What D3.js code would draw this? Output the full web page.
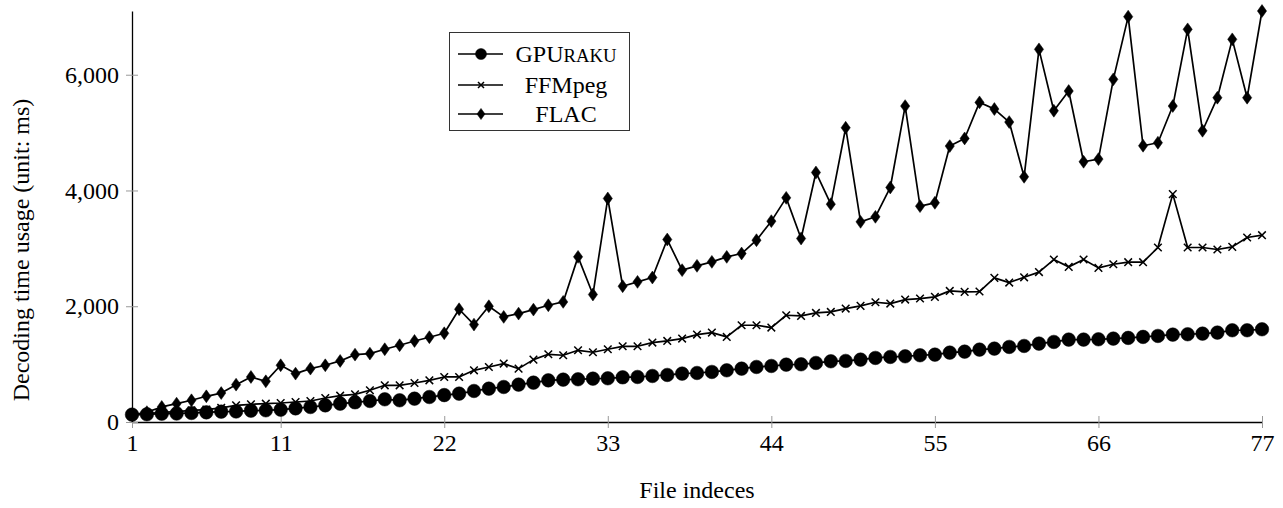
<!DOCTYPE html>
<html>
<head>
<meta charset="utf-8">
<script src="https://cdn.jsdelivr.net/npm/d3@7"></script>
<style>
  body { margin: 0; background: #fff; }
  svg text { font-family: "Liberation Serif", "DejaVu Serif", serif; fill: #000; }
</style>
</head>
<body>
<div id="chart"></div>
<script>
// file indices 1..77
var files = d3.range(1, 78);

var gpuraku = [127, 133, 144, 146, 156, 167, 179, 182, 196, 202,
    213, 236, 259, 288, 317, 340, 363, 392, 375, 403,
    432, 465, 490, 536, 576, 605, 646, 680, 720, 732,
    738, 749, 755, 772, 778, 795, 813, 836, 847, 865,
    893, 922, 951, 968, 991, 997, 1020, 1049, 1055, 1078,
    1107, 1124, 1135, 1153, 1164, 1199, 1216, 1251, 1268, 1297,
    1314, 1355, 1383, 1424, 1424, 1429, 1441, 1453, 1470, 1487,
    1510, 1516, 1527, 1545, 1585, 1585, 1602];

var ffmpeg = [120, 145, 165, 180, 200, 215, 245, 288, 305, 317,
    328, 346, 363, 415, 455, 478, 548, 634, 634, 674,
    720, 778, 778, 893, 951, 1009, 922, 1078, 1170, 1153,
    1239, 1205, 1257, 1308, 1308, 1372, 1401, 1441, 1510, 1545,
    1470, 1672, 1672, 1631, 1844, 1833, 1885, 1902, 1960, 2006,
    2069, 2046, 2115, 2133, 2162, 2265, 2248, 2254, 2490, 2409,
    2500, 2590, 2807, 2680, 2807, 2663, 2726, 2761, 2761, 3015,
    3937, 3015, 3015, 2980, 3026, 3188, 3228];

var flac = [120, 170, 260, 317, 375, 444, 500, 645, 778, 703,
    980, 836, 922, 980, 1055, 1164, 1182, 1257, 1326, 1400,
    1465, 1533, 1948, 1683, 2000, 1816, 1873, 1942, 2017, 2075,
    2853, 2202, 3862, 2346, 2421, 2496, 3153, 2623, 2698, 2767,
    2853, 2911, 3141, 3470, 3873, 3170, 4311, 3764, 5084, 3458,
    3545, 4052, 5458, 3729, 3787, 4767, 4899, 5522, 5407, 5182,
    4236, 6438, 5378, 5718, 4496, 4542, 5920, 7003, 4773, 4825,
    5459, 6784, 5032, 5603, 6611, 5603, 7101];

var xTicks = [1, 11, 22, 33, 44, 55, 66, 77];
var yTicks = [0, 2000, 4000, 6000];

var width = 1283, height = 508;
var fontSize = 24;

var svg = d3.select("#chart").append("svg")
    .attr("width", width)
    .attr("height", height);

var x = d3.scaleLinear().domain([1, 77]).range([132, 1262]);
var y = d3.scaleLinear()
    .domain([0, d3.max(flac.concat(ffmpeg, gpuraku))])
    .range([422, 11]);

// axes
var xAxis = svg.append("g")
    .attr("transform", "translate(0," + y(0) + ")")
    .call(d3.axisBottom(x).tickValues(xTicks).tickSizeInner(0).tickSizeOuter(0).tickPadding(12));
var yAxis = svg.append("g")
    .attr("transform", "translate(" + x(1) + ",0)")
    .call(d3.axisLeft(y).tickValues(yTicks).tickFormat(d3.format(",")).tickSizeInner(0).tickSizeOuter(0).tickPadding(13));

[xAxis, yAxis].forEach(function (g) {
    g.select(".domain").attr("stroke", "#000").attr("stroke-width", 1.3);
    g.selectAll("text").attr("font-size", fontSize).attr("font-family", null);
});

// ticks cross the axis line
xAxis.selectAll(".tick").append("line")
    .attr("y1", -6).attr("y2", 6)
    .attr("stroke", "#999").attr("stroke-width", 1);
yAxis.selectAll(".tick").append("line")
    .attr("x1", -6).attr("x2", 6)
    .attr("stroke", "#999").attr("stroke-width", 1);

// axis titles
svg.append("text")
    .attr("x", (x(1) + x(77)) / 2)
    .attr("y", 498)
    .attr("text-anchor", "middle")
    .attr("font-size", fontSize)
    .text("File indeces");

svg.append("text")
    .attr("transform", "translate(29,250) rotate(-90)")
    .attr("text-anchor", "middle")
    .attr("font-size", fontSize)
    .text("Decoding time usage (unit: ms)");

// markers
var markers = {
    circle: function (s) { return "M" + s + ",0A" + s + "," + s + " 0 1,1 " + (-s) + ",0A" + s + "," + s + " 0 1,1 " + s + ",0Z"; },
    cross: function (s) { return "M" + (-s) + "," + (-s) + "L" + s + "," + s + "M" + (-s) + "," + s + "L" + s + "," + (-s); },
    diamond: function (s) { return "M0," + (-s * 1.4) + "L" + s + ",0L0," + (s * 1.4) + "L" + (-s) + ",0Z"; }
};

var series = [
    {name: "GPU", values: gpuraku, marker: "circle", size: 6.8, legendSize: 5.5},
    {name: "FFMpeg", values: ffmpeg, marker: "cross", size: 3.8, legendSize: 3},
    {name: "FLAC", values: flac, marker: "diamond", size: 4.6, legendSize: 4}
];

var line = d3.line()
    .x(function (d, i) { return x(files[i]); })
    .y(function (d) { return y(d); });

series.forEach(function (s) {
    var g = svg.append("g");
    g.append("path")
        .attr("d", line(s.values))
        .attr("fill", "none")
        .attr("stroke", "#000")
        .attr("stroke-width", 1.7)
        .attr("stroke-linejoin", "round");
    g.selectAll("path.mk")
        .data(s.values)
        .enter().append("path")
        .attr("class", "mk")
        .attr("transform", function (d, i) { return "translate(" + x(files[i]) + "," + y(d) + ")"; })
        .attr("d", markers[s.marker](s.size))
        .attr("fill", "#000")
        .attr("stroke", "#000")
        .attr("stroke-width", s.marker == "cross" ? 1.5 : 0.5);
});

// legend
var legend = svg.append("g");
legend.append("rect")
    .attr("x", 449.5).attr("y", 32.5)
    .attr("width", 180).attr("height", 98)
    .attr("fill", "#fff")
    .attr("stroke", "#333")
    .attr("stroke-width", 1);

var rowY = [54, 85, 114];
series.forEach(function (s, i) {
    var row = legend.append("g").attr("transform", "translate(0," + rowY[i] + ")");
    row.append("line")
        .attr("x1", 458).attr("x2", 503)
        .attr("stroke", "#000").attr("stroke-width", 1.7);
    row.append("path")
        .attr("transform", "translate(481,0)")
        .attr("d", markers[s.marker](s.legendSize))
        .attr("fill", "#000")
        .attr("stroke", "#000")
        .attr("stroke-width", s.marker == "cross" ? 1.5 : 0.5);
    var t = row.append("text")
        .attr("x", 566)
        .attr("dy", "0.35em")
        .attr("text-anchor", "middle")
        .attr("font-size", fontSize)
        .text(s.name);
    if (i == 0) {
        t.append("tspan").attr("font-size", fontSize * 0.78).text("RAKU");
    }
});
</script>
</body>
</html>
